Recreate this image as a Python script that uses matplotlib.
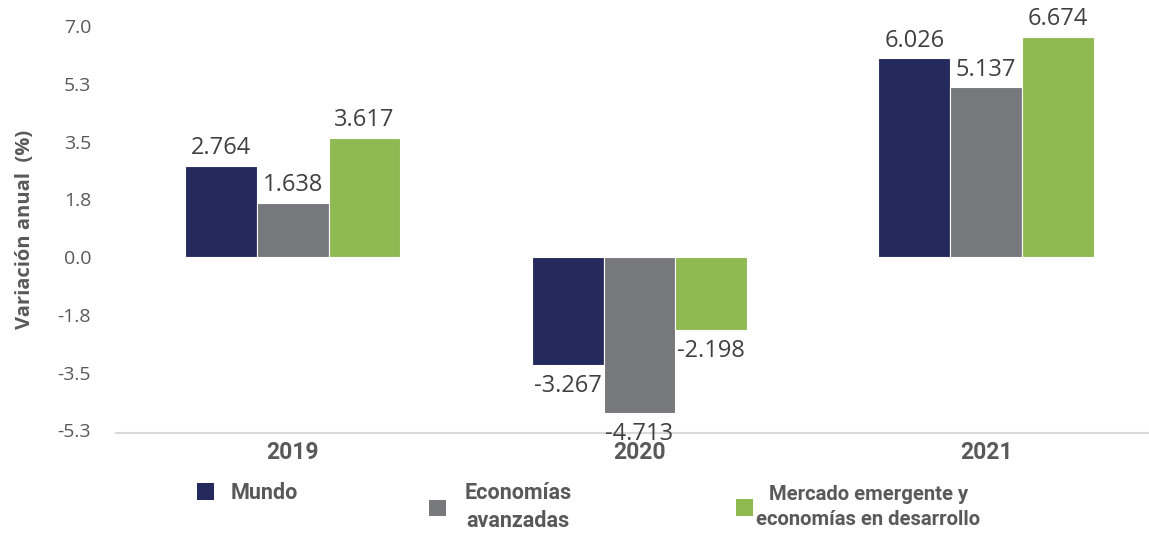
import matplotlib
matplotlib.use("Agg")
import matplotlib.pyplot as plt
from matplotlib.patches import Patch
import numpy as np

years = ["2019", "2020", "2021"]
series_names = ["Mundo", "Economías\navanzadas", "Mercado emergente y\neconomías en desarrollo"]
mundo = [2.764, -3.267, 6.026]
avanzadas = [1.638, -4.713, 5.137]
emergentes = [3.617, -2.198, 6.674]
colors = ["#252a5c", "#77787c", "#8fba52"]
yticks = [-5.25, -3.5, -1.75, 0.0, 1.75, 3.5, 5.25, 7.0]
ytick_labels = ["-5.3", "-3.5", "-1.8", "0.0", "1.8", "3.5", "5.3", "7.0"]

num_font = "Open Sans"
cond_font = ["Roboto", "DejaVu Sans"]

fig = plt.figure(figsize=(11.49, 5.33), dpi=100)
ax = fig.add_axes([0.101, 1 - 433 / 533, 0.899, (433 - 26) / 533])

x = np.arange(len(years))
w = 0.207
data = [mundo, avanzadas, emergentes]
handles = []
for i, (vals, c) in enumerate(zip(data, colors)):
    bars = ax.bar(x + (i - 1) * w, vals, width=w, color=c, edgecolor="white", linewidth=0.8, zorder=2)
    handles.append(bars)
    for b, v in zip(bars, vals):
        cx = b.get_x() + b.get_width() / 2
        if v >= 0:
            ax.annotate(f"{v:.3f}", (cx, v), xytext=(0, 4), textcoords="offset points",
                        ha="center", va="bottom", fontsize=17, color="#404040", family=num_font)
        else:
            ax.annotate(f"{v:.3f}", (cx, v), xytext=(0, -6.5), textcoords="offset points",
                        ha="center", va="top", fontsize=17, color="#404040", family=num_font)

ax.set_xlim(-0.51, 2.47)
ax.set_ylim(-5.33, 7.0)
ax.set_yticks(yticks)
ax.set_yticklabels(ytick_labels, family=num_font, fontsize=14, color="#595959")
ax.set_xticks(x)
ax.set_xticklabels(years, fontsize=16.5, fontweight="bold", color="#595959", family=cond_font)
ax.tick_params(axis="both", length=0)
ax.tick_params(axis="y", pad=18)
ax.tick_params(axis="x", pad=6)
for s in ["top", "right", "left"]:
    ax.spines[s].set_visible(False)
ax.spines["bottom"].set_color("#d9d9d9")
ax.spines["bottom"].set_linewidth(1.5)
ax.set_ylabel("Variación anual  (%)", fontsize=14.5, fontweight="bold", color="#595959",
              family=num_font)
ax.yaxis.set_label_coords((36 - 117) / 1035, (433 - 229) / 407)

# legends (one per series to match the reference's placement)
leg_specs = [  # (marker left px, center y px, handletextpad, font size)
    (197, 493, 0.75, 15.5),
    (429, 507, 0.85, 15.5),
    (736, 507, 0.15, 14.6),
]
for h, name, c, (lx, ly, pad, fs) in zip(handles, series_names, colors, leg_specs):
    p = Patch(facecolor=c, edgecolor="none")
    lg = fig.legend([p], [name], loc="center left", bbox_to_anchor=(lx / 1149, 1 - ly / 533),
                    frameon=False, borderpad=0, borderaxespad=0, handlelength=0.8 * 15.5 / fs,
                    handleheight=0.8 * 15.5 / fs, handletextpad=pad,
                    prop={"family": cond_font, "weight": "bold", "size": fs})
    for t in lg.get_texts():
        t.set_color("#595959")
        t.set_multialignment("center")
        t.set_linespacing(1.35)

fig.savefig("out.png", dpi=100, facecolor="white")
